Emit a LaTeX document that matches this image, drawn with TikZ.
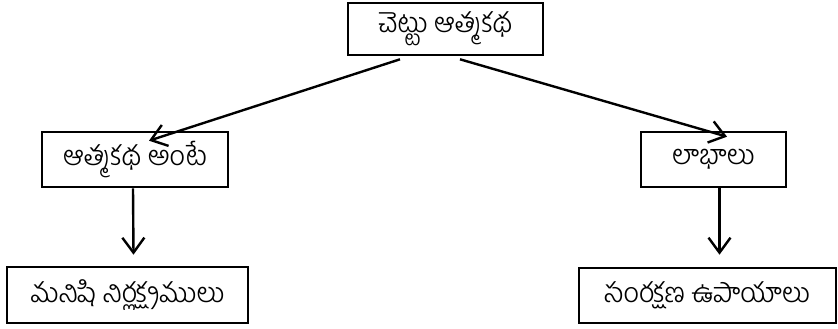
\documentclass[tikz,border=0pt]{standalone}
\usepackage{fontspec}
\newfontfamily\telugu[Script=Telugu]{Hind Guntur Light}
\usetikzlibrary{positioning,arrows.meta}

\begin{document}
\begin{tikzpicture}[x=1pt,y=-1pt,
    box/.style={draw, line width=2.6pt, inner sep=0pt, font=\telugu\fontsize{27.5}{32}\selectfont},
    link/.style={-{Straight Barb[length=15pt,width=22pt]}, line width=2.4pt}]
  \useasboundingbox (0,0) rectangle (838,329);
  % box nodes with absolute coordinates
  \node[box, minimum width=195pt, minimum height=52pt] (r) at (445.5,29) {చెట్టు ఆత్మకథ};
  \node[box, minimum width=186pt, minimum height=55pt] (a) at (135,159.5) {ఆత్మకథ అంటే};
  \node[box, minimum width=145pt, minimum height=55pt] (l) at (713.5,159.5) {లాభాలు};
  \node[box, minimum width=241pt, minimum height=56pt] (m) at (127.5,295) {మనిషి నిర్లక్ష్యములు};
  \node[box, minimum width=257pt, minimum height=55pt] (s) at (707.5,295.5) {సంరక్షణ ఉపాయాలు};
  % directed edges
  \draw [link] ([xshift=-45.5pt,yshift=-3pt]r.south) -- ([xshift=14pt,yshift=-10pt]a.north);
  \draw [link] ([xshift=14.5pt,yshift=-3pt]r.south) -- ([xshift=13.5pt,yshift=-6pt]l.north);
  \draw [link] ([xshift=-2pt]a.south) -- ([xshift=6pt,yshift=11pt]m.north);
  \draw [link] ([xshift=6pt]l.south) -- ([xshift=12pt,yshift=12pt]s.north);
\end{tikzpicture}
\end{document}
